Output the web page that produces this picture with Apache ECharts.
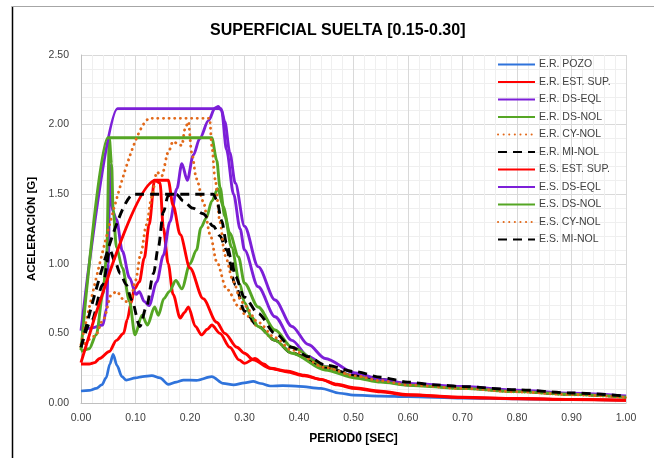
<!DOCTYPE html>
<html>
<head>
<meta charset="utf-8">
<script src="https://cdn.jsdelivr.net/npm/echarts@6/dist/echarts.min.js"></script>
<style>
html,body{margin:0;padding:0;background:#fff;}
#c{width:654px;height:458px;}
</style>
</head>
<body>
<div id="c"></div>
<script>
// ---- data ----
const xTicks = [0,0.1,0.2,0.3,0.4,0.5,0.6,0.7,0.8,0.9,1.0];
const yTicks = [0,0.5,1.0,1.5,2.0,2.5];

const erPozoX = [0,0.015,0.028,0.038,0.046,0.053,0.059,0.066,0.075,0.083,0.1,0.113,0.13,0.145,0.16,0.175,0.188,0.212,0.24,0.261,0.28,0.3,0.316,0.33,0.347,0.37,0.4,0.44,0.475,0.5,0.55,0.6,0.7,0.8,0.9,1.0];
const erPozoY = [0.086,0.09,0.105,0.13,0.18,0.28,0.35,0.27,0.19,0.165,0.18,0.19,0.196,0.18,0.134,0.15,0.165,0.163,0.19,0.141,0.13,0.145,0.155,0.14,0.122,0.125,0.12,0.105,0.07,0.057,0.05,0.045,0.035,0.03,0.025,0.02];

const erEstX = [0,0.015,0.025,0.034,0.052,0.065,0.078,0.085,0.092,0.098,0.107,0.116,0.125,0.135,0.145,0.151,0.16,0.169,0.182,0.19,0.197,0.21,0.221,0.232,0.24,0.255,0.273,0.29,0.30,0.319,0.335,0.347,0.377,0.41,0.44,0.47,0.5,0.55,0.6,0.7,0.8,0.9,1.0];
const erEstY = [0.28,0.28,0.29,0.32,0.37,0.45,0.50,0.60,0.72,0.82,0.87,1.04,1.28,1.60,1.58,1.26,1.00,0.78,0.61,0.65,0.69,0.55,0.49,0.53,0.56,0.50,0.40,0.31,0.285,0.32,0.28,0.25,0.23,0.20,0.17,0.13,0.105,0.08,0.057,0.04,0.03,0.025,0.02];

const erDsEqlX = [0,0.021,0.04,0.047,0.05,0.053,0.058,0.065,0.076,0.089,0.101,0.107,0.116,0.125,0.139,0.151,0.163,0.176,0.185,0.195,0.206,0.218,0.234,0.246,0.252,0.258,0.267,0.28,0.292,0.30,0.325,0.356,0.387,0.417,0.45,0.503,0.55,0.6,0.7,0.8,0.9,1.0];
const erDsEqlY = [0.52,0.54,0.56,0.68,1.0,1.71,1.38,1.32,1.09,0.90,0.78,0.80,0.73,0.70,0.87,1.06,1.30,1.54,1.72,1.60,1.78,1.90,2.03,2.12,2.13,2.10,1.82,1.50,1.25,1.10,0.835,0.62,0.45,0.335,0.26,0.19,0.155,0.13,0.11,0.085,0.065,0.045];

const erDsNolX = [0,0.015,0.028,0.04,0.047,0.052,0.056,0.059,0.065,0.076,0.089,0.099,0.112,0.122,0.135,0.142,0.152,0.162,0.174,0.185,0.2,0.212,0.22,0.23,0.24,0.251,0.261,0.273,0.289,0.30,0.325,0.356,0.387,0.448,0.503,0.55,0.6,0.7,0.8,0.9,1.0];
const erDsNolY = [0.37,0.39,0.49,0.78,1.05,1.90,1.72,1.39,1.12,0.97,0.73,0.49,0.63,0.56,0.69,0.63,0.75,0.80,0.88,0.82,1.0,1.1,1.26,1.33,1.45,1.54,1.41,1.22,1.05,0.86,0.69,0.524,0.40,0.26,0.19,0.16,0.135,0.11,0.085,0.065,0.045];

const erCyNolX = [0,0.026,0.041,0.056,0.065,0.081,0.09,0.1,0.11,0.12,0.13,0.139,0.148,0.16,0.169,0.178,0.185,0.191,0.197,0.203,0.212,0.224,0.237,0.249,0.267,0.292,0.30,0.325,0.356,0.387,0.448,0.503,0.55,0.6,0.7,0.8,0.9,1.0];
const erCyNolY = [0.40,0.48,0.60,0.78,0.80,0.73,0.72,0.88,1.08,1.28,1.48,1.66,1.63,1.80,1.88,1.86,1.85,1.97,2.02,1.80,1.61,1.45,1.21,1.015,0.82,0.68,0.64,0.55,0.45,0.36,0.25,0.19,0.155,0.13,0.105,0.08,0.06,0.04];

const erMiNolX = [0,0.02,0.04,0.053,0.062,0.072,0.083,0.093,0.108,0.12,0.133,0.142,0.151,0.16,0.175,0.188,0.205,0.224,0.243,0.255,0.267,0.283,0.30,0.325,0.356,0.387,0.448,0.503,0.55,0.6,0.7,0.8,0.9,1.0];
const erMiNolY = [0.40,0.60,0.85,1.10,1.02,0.93,0.85,0.74,0.55,0.69,0.93,1.12,1.37,1.49,1.50,1.45,1.40,1.36,1.27,1.20,1.10,0.85,0.66,0.55,0.45,0.357,0.25,0.20,0.17,0.135,0.11,0.085,0.065,0.045];

const esEstX = [0,0.137,0.16,0.169,0.182,0.2,0.224,0.249,0.264,0.286,0.30,0.316,0.347,0.377,0.41,0.44,0.47,0.5,0.55,0.6,0.7,0.8,0.9,1.0];
const esEstY = [0.29,1.60,1.60,1.42,1.21,0.97,0.75,0.58,0.50,0.40,0.357,0.31,0.25,0.225,0.195,0.17,0.135,0.11,0.085,0.06,0.042,0.032,0.026,0.02];

const esDsEqlX = [0,0.067,0.257,0.264,0.273,0.283,0.30,0.325,0.356,0.387,0.417,0.448,0.503,0.55,0.6,0.7,0.8,0.9,1.0];
const esDsEqlY = [0.52,2.115,2.115,2.02,1.80,1.58,1.27,0.98,0.74,0.55,0.42,0.32,0.215,0.17,0.14,0.118,0.092,0.07,0.05];

const esDsNolX = [0,0.049,0.24,0.249,0.255,0.264,0.276,0.292,0.30,0.313,0.325,0.356,0.387,0.448,0.503,0.55,0.6,0.7,0.8,0.9,1.0];
const esDsNolY = [0.38,1.906,1.906,1.745,1.55,1.34,1.12,0.85,0.72,0.62,0.55,0.45,0.357,0.237,0.18,0.15,0.128,0.105,0.082,0.062,0.042];

const esCyNolX = [0,0.127,0.236,0.24,0.246,0.255,0.264,0.28,0.292,0.30,0.325,0.356,0.387,0.448,0.503,0.55,0.6,0.7,0.8,0.9,1.0];
const esCyNolY = [0.42,2.045,2.045,1.85,1.61,1.30,1.06,0.87,0.75,0.70,0.58,0.47,0.38,0.255,0.195,0.16,0.13,0.105,0.08,0.06,0.04];

const esMiNolX = [0,0.097,0.243,0.249,0.258,0.267,0.276,0.283,0.30,0.325,0.356,0.387,0.417,0.448,0.503,0.55,0.6,0.65,0.7,0.8,0.9,1.0];
const esMiNolY = [0.40,1.50,1.50,1.46,1.31,1.15,1.03,0.91,0.76,0.644,0.50,0.40,0.333,0.273,0.225,0.185,0.15,0.13,0.118,0.095,0.072,0.05];

const seriesNames = ['E.R. POZO','E.R. EST. SUP.','E.R. DS-EQL','E.R. DS-NOL','E.R. CY-NOL','E.R. MI-NOL','E.S. EST. SUP.','E.S. DS-EQL','E.S. DS-NOL','E.S. CY-NOL','E.S. MI-NOL'];

// ---- build ----
const BLUE='#2F73DB', RED='#FF0000', PURPLE='#7C1FD8', GREEN='#55A624', ORANGE='#E2691A', BLACK='#000000';
function zip(xs, ys){ return xs.map((x,i)=>[x, ys[i]]); }
const defs = [
  [erPozoX, erPozoY, BLUE, 'solid'],
  [erEstX, erEstY, RED, 'solid'],
  [erDsEqlX, erDsEqlY, PURPLE, 'solid'],
  [erDsNolX, erDsNolY, GREEN, 'solid'],
  [erCyNolX, erCyNolY, ORANGE, 'dot'],
  [erMiNolX, erMiNolY, BLACK, 'dash'],
  [esEstX, esEstY, RED, 'solid'],
  [esDsEqlX, esDsEqlY, PURPLE, 'solid'],
  [esDsNolX, esDsNolY, GREEN, 'solid'],
  [esCyNolX, esCyNolY, ORANGE, 'dot'],
  [esMiNolX, esMiNolY, BLACK, 'dash']
];
const series = defs.map((d,i)=>{
  let type='solid', cap='butt';
  if(d[3]==='dot'){ type=[0.1,5.5]; cap='round'; }
  if(d[3]==='dash'){ type=[9,6]; }
  return {
    name: seriesNames[i], type:'line', data: zip(d[0], d[1]),
    symbol:'none', showSymbol:false, smooth:0.3, smoothMonotone:'x',
    lineStyle:{color:d[2], width: (i===0?2.7:2.9), type:type, cap:cap},
    itemStyle:{color:d[2]}, emphasis:{disabled:true}, animation:false
  };
});

const FONT = 'Liberation Sans';
const chart = echarts.init(document.getElementById('c'), null, {renderer:'canvas'});
chart.setOption({
  backgroundColor:'#ffffff',
  animation:false,
  title:{text:'SUPERFICIAL SUELTA [0.15-0.30]', left:205, top:18, textStyle:{fontFamily:FONT, fontSize:16, fontWeight:'bold', color:'#000'}},
  grid:{left:81, right:28, top:55, bottom:55},
  legend:{
    orient:'vertical', left:497, top:59, padding:0, itemWidth:37, itemHeight:12, itemGap:6.5,
    data: seriesNames,
    itemStyle:{opacity:0},
    textStyle:{fontFamily:FONT, fontSize:10.5, color:'#404040', padding:[0,0,0,-1]}
  },
  xAxis:{
    type:'value', min:0, max:1, interval:0.1,
    name:'PERIOD0 [SEC]', nameLocation:'middle', nameGap:30,
    nameTextStyle:{fontFamily:FONT, fontSize:12, fontWeight:'bold', color:'#000'},
    axisLine:{show:true, lineStyle:{color:'#bfbfbf', width:1}},
    axisTick:{show:false},
    axisLabel:{fontFamily:FONT, fontSize:10.5, color:'#404040', margin:10, formatter:v=>v.toFixed(2)},
    splitLine:{show:true, lineStyle:{color:'#d9d9d9', width:1}},
    minorTick:{show:false, splitNumber:5},
    minorSplitLine:{show:true, lineStyle:{color:'#efefef', width:1}}
  },
  yAxis:{
    type:'value', min:0, max:2.5, interval:0.5,
    name:'ACELERACIÓN [G]', nameLocation:'middle', nameGap:37,
    nameTextStyle:{fontFamily:FONT, fontSize:11.5, fontWeight:'bold', color:'#000'},
    axisLine:{show:true, lineStyle:{color:'#bfbfbf', width:1}},
    axisTick:{show:false},
    axisLabel:{fontFamily:FONT, fontSize:10.5, color:'#404040', margin:12, formatter:v=>v.toFixed(2)},
    splitLine:{show:true, lineStyle:{color:'#d9d9d9', width:1}},
    minorTick:{show:false, splitNumber:5},
    minorSplitLine:{show:true, lineStyle:{color:'#efefef', width:1}}
  },
  graphic:[
    {type:'line', shape:{x1:12.5, y1:6, x2:12.5, y2:458}, style:{stroke:'#000', lineWidth:1.5}, silent:true},
    {type:'line', shape:{x1:12, y1:6.5, x2:654, y2:6.5}, style:{stroke:'#a6a6a6', lineWidth:1}, silent:true}
  ],
  series: series
});
</script>
</body>
</html>
